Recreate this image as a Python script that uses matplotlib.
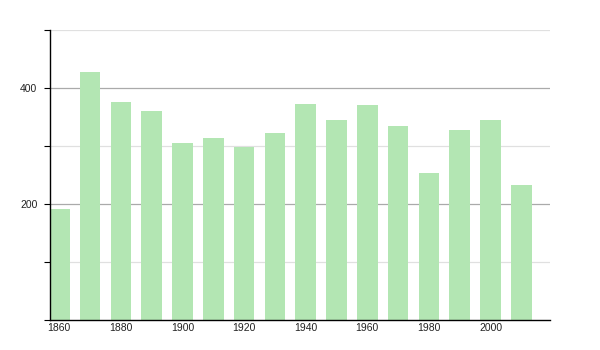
import matplotlib
matplotlib.use("Agg")
import matplotlib.pyplot as plt
from matplotlib.ticker import MultipleLocator

years = [1860, 1870, 1880, 1890, 1900, 1910, 1920, 1930, 1940, 1950,
         1960, 1970, 1980, 1990, 2000, 2010]
values = [191, 428, 376, 361, 306, 314, 299, 322, 373, 345,
          370, 335, 253, 327, 344, 233]
xtick_labels = [1860, 1880, 1900, 1920, 1940, 1960, 1980, 2000]
ytick_labels = [200, 400]

plt.rcParams['font.family'] = ['Liberation Sans', 'DejaVu Sans']

fig = plt.figure(figsize=(6, 3.5), dpi=100)
ax = fig.add_axes([50/600, 30/350, 500/600, 290/350])

for y in [100, 300, 500]:
    ax.axhline(y, color='#e0e0e0', lw=0.9, zorder=0)
for y in [200, 400]:
    ax.axhline(y, color='#aaaaaa', lw=0.9, zorder=0)

ax.bar(years, values, width=6.7, color='#b3e6b3', edgecolor='none', zorder=2)

ax.set_xlim(1857.0, 2019.3)
ax.set_ylim(0, 500)

ax.set_xticks(xtick_labels)
ax.set_xticklabels([str(v) for v in xtick_labels])
ax.set_yticks(ytick_labels)
ax.set_yticklabels([str(v) for v in ytick_labels])
ax.yaxis.set_minor_locator(MultipleLocator(100))

ax.tick_params(axis='x', length=0, pad=2, labelsize=7.5, colors='#222222')
ax.tick_params(axis='y', which='major', length=4, width=0.8, pad=5, labelsize=7.5, colors='#222222')
ax.tick_params(axis='y', which='minor', length=4, width=0.8)
ax.tick_params(axis='y', which='both', color='black')

for s in ['top', 'right']:
    ax.spines[s].set_visible(False)
for s in ['left', 'bottom']:
    ax.spines[s].set_color('black')
    ax.spines[s].set_linewidth(1.0)

fig.savefig('out.png', dpi=100)
